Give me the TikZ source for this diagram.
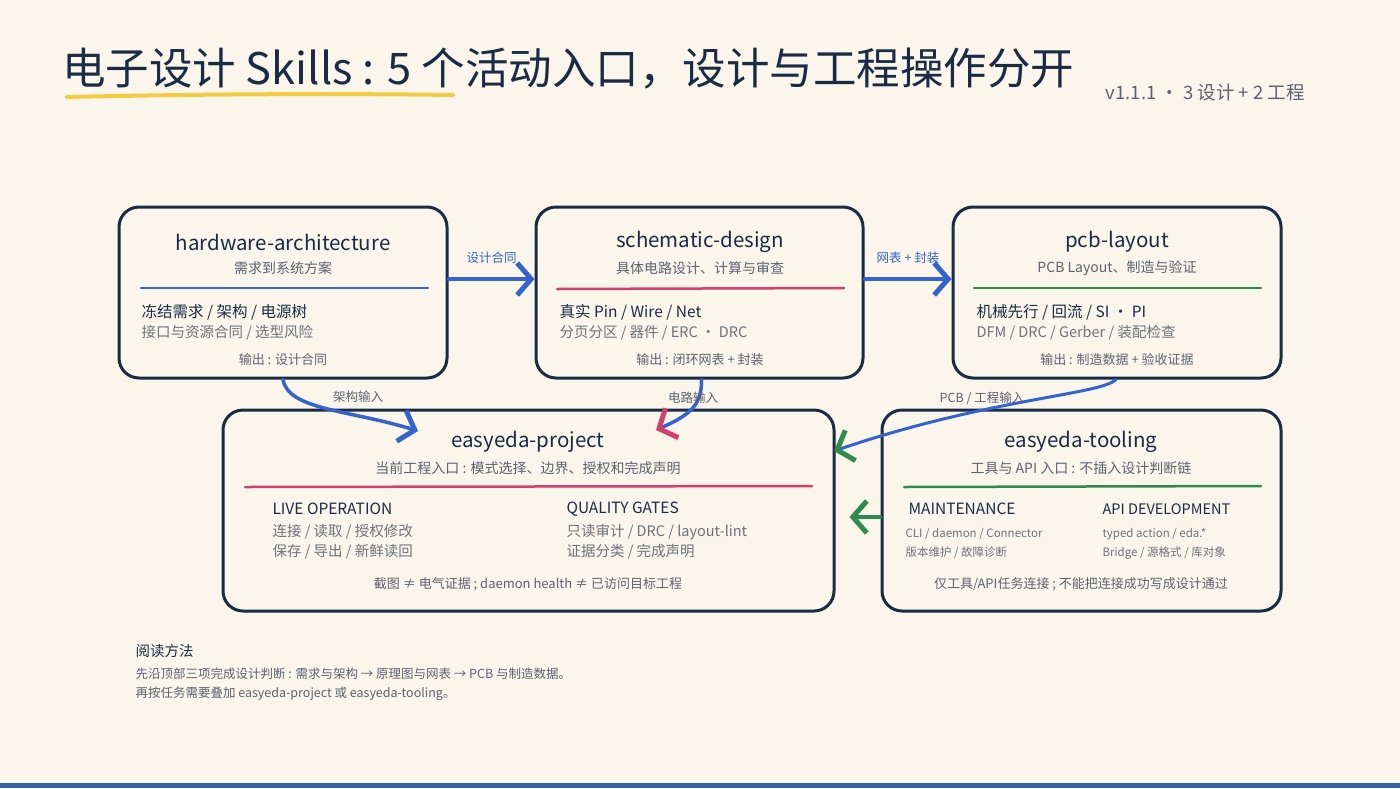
\documentclass[tikz,border=0pt]{standalone}
\usepackage{fontspec}
\setmainfont{Noto Sans CJK SC}
\usetikzlibrary{arrows.meta}
\definecolor{bg}{HTML}{FAF6EB}
\definecolor{navy}{HTML}{1C2B45}
\definecolor{gtxt}{HTML}{5C6270}
\definecolor{gtxt2}{HTML}{6E727B}
\definecolor{fblue}{HTML}{3563CC}
\definecolor{fpink}{HTML}{D13F6B}
\definecolor{fgreen}{HTML}{2F8A4F}
\definecolor{fyellow}{HTML}{F3CB45}
\definecolor{barblue}{HTML}{3B5EA8}
\newcommand{\fsz}[1]{\fontsize{#1}{#1}\selectfont}
\begin{document}
\begin{tikzpicture}[x=1pt,y=-1pt,
  box/.style={draw=navy, line width=3pt, rounded corners=20pt, inner sep=0pt},
  ttl/.style={font=\fsz{20.5}, text=navy},
  subt/.style={font=\fsz{14}, text=gtxt},
  bodyA/.style={anchor=west, font=\fsz{15.5}, text=navy},
  bodyB/.style={anchor=west, font=\fsz{14.5}, text=gtxt2},
  outp/.style={font=\fsz{13}, text=gtxt},
  small/.style={anchor=west, font=\fsz{11.5}, text=gtxt2},
  lbl/.style={font=\fsz{12.5}},
  tip/.style={-{Straight Barb[length=14pt,width=32pt,line width=5pt,#1]}},
  flow/.style={line width=3.5pt, line cap=round, draw=fblue, tip={}},
  sep/.style={line width=2.5pt, line cap=round}
]
\useasboundingbox[fill=bg] (0,0) rectangle (1400,788);
\fill[barblue] (0,783) rectangle (1400,788);

% title
\node[anchor=west, font=\fsz{43.5}, text=navy, inner sep=0pt] (title) at (62,69) {电子设计 Skills : 5 个活动入口，设计与工程操作分开};
\draw[fyellow, line width=4pt, line cap=round] (67,97) .. controls (250,93) and (380,94) .. (453,95);
\node[anchor=east, font=\fsz{18.5}, text=gtxt, inner sep=0pt] (ver) at (1305,93) {v1.1.1 · 3 设计 + 2 工程};

% boxes
\node[box, minimum width=328pt, minimum height=171pt] (hw) at (283,292.5) {};
\node[box, minimum width=327pt, minimum height=171pt] (sch) at (699.5,292.5) {};
\node[box, minimum width=328pt, minimum height=171pt] (pcb) at (1117,292.5) {};
\node[box, minimum width=611pt, minimum height=201pt] (proj) at (528.5,510.5) {};
\node[box, minimum width=399pt, minimum height=201pt] (tool) at (1081.5,510.5) {};

% hardware-architecture
\node[ttl] (hwt) at (283,242) {hardware-architecture};
\node[subt] (hws) at (283,268) {需求到系统方案};
\draw[sep, fblue] (141,288) -- (428,288);
\node[bodyA] (hwa) at (138,312) {冻结需求 / 架构 / 电源树};
\node[bodyB] (hwb) at (138,333) {接口与资源合同 / 选型风险};
\node[outp] (hwo) at (283,360) {输出 : 设计合同};

% schematic-design
\node[ttl] (scht) at (700,242) {schematic-design};
\node[subt] (schs) at (700,268) {具体电路设计、计算与审查};
\draw[sep, fpink] (557,289) -- (844,288);
\node[bodyA] (scha) at (556,312) {真实 Pin / Wire / Net};
\node[bodyB] (schb) at (556,333) {分页分区 / 器件 / ERC · DRC};
\node[outp] (scho) at (700,360) {输出 : 闭环网表 + 封装};

% pcb-layout
\node[ttl] (pcbt) at (1117,242) {pcb-layout};
\node[subt] (pcbs) at (1117,268) {PCB Layout、制造与验证};
\draw[sep, fgreen] (974,288) -- (1261,288);
\node[bodyA] (pcba) at (973,312) {机械先行 / 回流 / SI · PI};
\node[bodyB] (pcbb) at (973,333) {DFM / DRC / Gerber / 装配检查};
\node[outp] (pcbo) at (1117,360) {输出 : 制造数据 + 验收证据};

% easyeda-project
\node[ttl] (projt) at (528,442) {easyeda-project};
\node[subt] (projs) at (528,468) {当前工程入口 : 模式选择、边界、授权和完成声明};
\draw[sep, fpink] (245,487) -- (812,486);
\node[bodyA] (proja) at (269,509) {LIVE OPERATION};
\node[bodyB] (projb) at (269,532) {连接 / 读取 / 授权修改};
\node[bodyB] (projc) at (269,552) {保存 / 导出 / 新鲜读回};
\node[bodyA] (projd) at (563,509) {QUALITY GATES};
\node[bodyB] (proje) at (563,532) {只读审计 / DRC / layout-lint};
\node[bodyB] (projf) at (563,552) {证据分类 / 完成声明};
\node[outp] (projo) at (528,584) {截图 ≠ 电气证据 ; daemon health ≠ 已访问目标工程};

% easyeda-tooling
\node[ttl] (toolt) at (1081,442) {easyeda-tooling};
\node[subt] (tools) at (1081,468) {工具与 API 入口 : 不插入设计判断链};
\draw[sep, fgreen] (904,487) -- (1261,486);
\node[bodyA] (toola) at (905,509) {MAINTENANCE};
\node[small] (toolb) at (902,534) {CLI / daemon / Connector};
\node[small] (toolc) at (902,553) {版本维护 / 故障诊断};
\node[bodyA, font=\fsz{14.5}] (toold) at (1099,509) {API DEVELOPMENT};
\node[small] (toole) at (1099,534) {typed action / eda.*};
\node[small] (toolf) at (1099,553) {Bridge / 源格式 / 库对象};
\node[outp] (toolo) at (1081,584) {仅工具/API任务连接 ; 不能把连接成功写成设计通过};

% connectors
\draw[flow] ([yshift=13.5pt]hw.east) -- ([yshift=13.5pt]sch.west)
  node[midway, above=10pt, lbl, text=fblue] (l1) {设计合同};
\draw[flow] ([yshift=13.5pt]sch.east) -- ([yshift=13.5pt]pcb.west)
  node[midway, above=10pt, lbl, text=fblue] (l2) {网表 + 封装};

\coordinate (e1) at (418,431);
\coordinate (e2) at (656,430);
\coordinate (e3) at (834,451);
\draw[flow] (hw.south) .. controls (288,410) and (350,410) .. (e1);
\node[lbl, text=gtxt] (l3) at (358,397) {架构输入};
\draw[flow, tip={color=fpink}]
  ([xshift=2pt]sch.south) .. controls (702,405) and (690,415) .. (e2);
\node[lbl, text=gtxt] (l4) at (693,398) {电路输入};
\draw[flow, line width=3pt, tip={color=fgreen}]
  ([xshift=-1pt]pcb.south) .. controls (1100,395) and (990,398) .. (e3);
\node[lbl, text=gtxt] (l5) at (982,398) {PCB / 工程输入};
\draw[line width=3.5pt, line cap=round, draw=fgreen, tip={}]
  ([yshift=-6.5pt]tool.west) -- ([yshift=-6.5pt,xshift=14pt]proj.east);

% reading notes
\node[anchor=west, font=\fsz{14.5}, text=navy] (rh) at (132,651) {阅读方法};
\node[anchor=west, font=\fsz{12.5}, text=gtxt] (r1) at (132,674) {先沿顶部三项完成设计判断 : 需求与架构 → 原理图与网表 → PCB 与制造数据。};
\node[anchor=west, font=\fsz{12.5}, text=gtxt] (r2) at (132,694) {再按任务需要叠加 easyeda-project 或 easyeda-tooling。};
\end{tikzpicture}
\end{document}
